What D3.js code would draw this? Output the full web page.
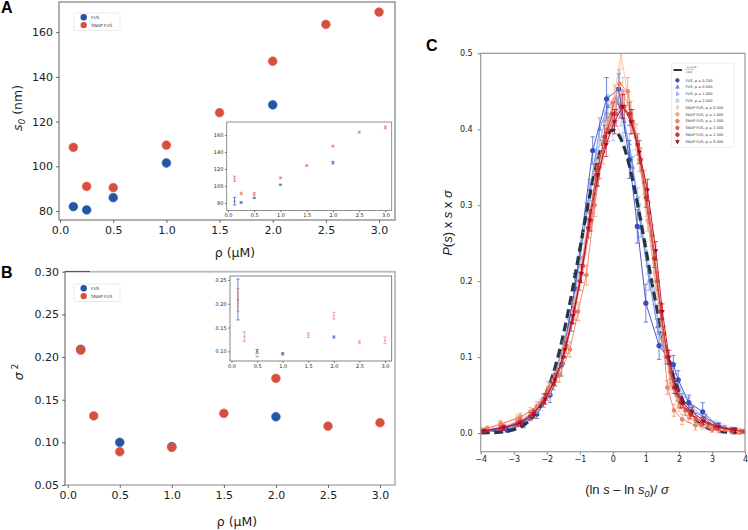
<!DOCTYPE html>
<html><head><meta charset="utf-8">
<script src="https://cdn.jsdelivr.net/npm/d3@7"></script>
<style>body{margin:0;background:#fff} svg{display:block;font-family:"DejaVu Sans",sans-serif}</style>
</head><body><svg id="c" width="748" height="530"></svg>
<script>
// ---------------- DATA ----------------
const rhoTicks = [0, 0.5, 1, 1.5, 2, 2.5, 3];
const s0Ticks = [80, 100, 120, 140, 160];
const sigTicks = [0.05, 0.10, 0.15, 0.20, 0.25, 0.30];
const sigInsetTicks = [0.10, 0.15, 0.20, 0.25];
const cXTicks = [-4, -3, -2, -1, 0, 1, 2, 3, 4];
const cYTicks = [0, 0.1, 0.2, 0.3, 0.4, 0.5];
const groupNames = ["FUS", "SNAP FUS"];

const fusRhoA = [0.125, 0.25, 0.5, 1, 2];
const fusS0 = [82, 80.5, 86, 101.5, 127.5];
const fusS0Err = [4.5, 1, 0.6, 0.6, 1.5];
const snapRhoA = [0.125, 0.25, 0.5, 1, 1.5, 2, 2.5, 3];
const snapS0 = [108.5, 91, 90.5, 109.5, 124, 147, 163.5, 169];
const snapS0Err = [3, 1.5, 1.5, 1, 1, 1, 1, 1.5];

const fusRhoB = [0.125, 0.5, 1, 2];
const fusSig = [0.209, 0.100, 0.095, 0.130];
const fusSigErr = [0.043, 0.004, 0.002, 0.002];
const snapRhoB = [0.125, 0.25, 0.5, 1, 1.5, 2, 2.5, 3];
const snapSig = [0.208, 0.131, 0.089, 0.094, 0.134, 0.175, 0.119, 0.123];
const snapSigErr = [0.024, 0.01, 0.001, 0.002, 0.005, 0.007, 0.003, 0.007];

// reference curve e^{-x^2/2}/sqrt(2pi), sampled
const refX = [-4,-3.75,-3.5,-3.25,-3,-2.75,-2.5,-2.25,-2,-1.75,-1.5,-1.25,-1,-0.75,-0.5,-0.25,0,0.25,0.5,0.75,1,1.25,1.5,1.75,2,2.25,2.5,2.75,3,3.25,3.5,3.75,4];
const refY = [0.00013,0.00035,0.00087,0.00203,0.00443,0.00909,0.01753,0.03174,0.05399,0.08628,0.12952,0.18265,0.24197,0.30114,0.35207,0.38667,0.39894,0.38667,0.35207,0.30114,0.24197,0.18265,0.12952,0.08628,0.05399,0.03174,0.01753,0.00909,0.00443,0.00203,0.00087,0.00035,0.00013];

const fus025X = [-3.9,-3.2,-2.7,-2.3,-1.9,-1.55,-1.15,-0.61,-0.19,0.18,0.5,0.74,1.0,1.4,1.83,1.98,2.3,2.72,3.2,3.7];
const fus025Y = [0.002,0.004,0.012,0.025,0.05,0.09,0.19,0.372,0.44,0.453,0.36,0.272,0.171,0.115,0.09,0.07,0.04,0.028,0.008,0.003];
const fus025E = [0.002,0.003,0.005,0.006,0.01,0.015,0.02,0.018,0.028,0.02,0.025,0.022,0.025,0.018,0.012,0.012,0.01,0.012,0.005,0.003];

const fus050X = [-3.6,-3.0,-2.5,-2.1,-1.7,-1.35,-1.0,-0.7,-0.4,-0.15,0.1,0.35,0.6,0.85,1.1,1.35,1.6,1.85,2.1,2.4,2.8,3.2,3.7];
const fus050Y = [0.004,0.01,0.02,0.045,0.085,0.14,0.23,0.32,0.40,0.43,0.44,0.41,0.35,0.27,0.2,0.14,0.1,0.07,0.045,0.03,0.02,0.01,0.004];
const fus050E = [0.002,0.003,0.004,0.006,0.008,0.01,0.012,0.014,0.015,0.015,0.015,0.015,0.014,0.012,0.012,0.01,0.009,0.008,0.007,0.006,0.005,0.004,0.003];

const fus100X = [-3.8,-3.1,-2.6,-2.2,-1.8,-1.45,-1.1,-0.8,-0.5,-0.25,0.0,0.25,0.5,0.75,1.0,1.25,1.5,1.75,2.0,2.3,2.7,3.1,3.6];
const fus100Y = [0.003,0.007,0.018,0.035,0.07,0.12,0.2,0.29,0.36,0.41,0.40,0.42,0.38,0.31,0.24,0.18,0.12,0.085,0.06,0.04,0.022,0.012,0.005];
const fus100E = [0.002,0.003,0.004,0.005,0.007,0.009,0.011,0.013,0.014,0.015,0.015,0.015,0.014,0.013,0.012,0.011,0.01,0.009,0.008,0.007,0.006,0.004,0.003];

const fus200X = [-3.9,-3.3,-2.7,-2.2,-1.8,-1.4,-1.05,-0.75,-0.45,-0.2,0.05,0.3,0.55,0.8,1.05,1.3,1.55,1.8,2.05,2.4,2.8,3.3,3.8];
const fus200Y = [0.002,0.006,0.015,0.04,0.075,0.13,0.21,0.30,0.37,0.42,0.41,0.39,0.36,0.30,0.22,0.16,0.11,0.07,0.05,0.03,0.016,0.008,0.003];
const fus200E = [0.002,0.003,0.004,0.005,0.007,0.009,0.011,0.012,0.013,0.014,0.014,0.014,0.013,0.012,0.011,0.01,0.009,0.008,0.007,0.006,0.005,0.004,0.003];

const snap050X = [-3.9,-3.3,-2.8,-2.3,-1.9,-1.5,-1.15,-0.85,-0.55,-0.3,-0.05,0.25,0.5,0.75,1.0,1.25,1.5,1.75,2.0,2.3,2.7,3.2,3.8];
const snap050Y = [0.004,0.009,0.017,0.032,0.058,0.1,0.17,0.25,0.33,0.38,0.42,0.50,0.43,0.37,0.3,0.21,0.13,0.07,0.04,0.025,0.013,0.006,0.002];
const snap050E = [0.003,0.004,0.005,0.006,0.008,0.01,0.012,0.014,0.016,0.017,0.018,0.02,0.018,0.017,0.015,0.013,0.011,0.009,0.008,0.007,0.006,0.005,0.004];

const snap100X = [-4.0,-3.4,-2.9,-2.5,-2.1,-1.8,-1.5,-1.2,-0.95,-0.7,-0.45,-0.2,0.05,0.3,0.55,0.8,1.05,1.3,1.55,1.75,2.0,2.3,2.7,3.2,3.8];
const snap100Y = [0.004,0.011,0.019,0.028,0.045,0.07,0.11,0.16,0.22,0.29,0.35,0.40,0.44,0.45,0.42,0.36,0.28,0.2,0.12,0.065,0.035,0.02,0.01,0.004,0.002];
const snap100E = [0.003,0.004,0.005,0.006,0.007,0.008,0.01,0.012,0.013,0.015,0.016,0.017,0.018,0.018,0.017,0.016,0.014,0.012,0.01,0.008,0.007,0.006,0.005,0.004,0.003];

const snap150X = [-3.8,-3.4,-2.8,-2.3,-1.95,-1.62,-1.3,-1.05,-0.8,-0.55,-0.3,-0.05,0.2,0.45,0.7,0.95,1.2,1.45,1.65,1.85,2.1,2.5,3.0,3.6];
const snap150Y = [0.006,0.012,0.021,0.035,0.06,0.076,0.11,0.16,0.208,0.30,0.37,0.42,0.46,0.45,0.39,0.33,0.26,0.16,0.06,0.03,0.018,0.01,0.005,0.002];
const snap150E = [0.003,0.004,0.005,0.006,0.008,0.009,0.01,0.012,0.013,0.015,0.016,0.017,0.018,0.018,0.017,0.016,0.014,0.012,0.009,0.008,0.007,0.006,0.004,0.003];

const snap200X = [-3.9,-3.3,-2.8,-2.4,-2.0,-1.7,-1.4,-1.15,-0.9,-0.65,-0.4,-0.15,0.1,0.35,0.6,0.85,1.1,1.35,1.55,1.75,1.95,2.2,2.5,2.9,3.4,3.9];
const snap200Y = [0.003,0.008,0.015,0.027,0.05,0.075,0.115,0.16,0.22,0.28,0.35,0.40,0.42,0.43,0.41,0.36,0.29,0.20,0.13,0.08,0.05,0.03,0.02,0.012,0.006,0.002];
const snap200E = [0.002,0.003,0.004,0.005,0.007,0.008,0.01,0.011,0.012,0.014,0.015,0.016,0.016,0.016,0.016,0.015,0.014,0.012,0.01,0.009,0.008,0.007,0.006,0.005,0.004,0.003];

const snap250X = [-4.0,-3.4,-2.9,-2.5,-2.1,-1.8,-1.5,-1.25,-1.0,-0.75,-0.5,-0.25,0.0,0.25,0.5,0.75,1.0,1.25,1.45,1.65,1.85,2.05,2.35,2.7,3.1,3.6,4.0];
const snap250Y = [0.002,0.006,0.012,0.022,0.04,0.065,0.1,0.145,0.2,0.27,0.34,0.39,0.42,0.43,0.42,0.38,0.31,0.23,0.16,0.1,0.06,0.04,0.025,0.015,0.008,0.004,0.002];
const snap250E = [0.002,0.003,0.004,0.005,0.006,0.008,0.009,0.011,0.012,0.013,0.014,0.015,0.015,0.015,0.015,0.014,0.013,0.012,0.011,0.009,0.008,0.007,0.006,0.005,0.004,0.003,0.002];

const snap300X = [-3.9,-3.3,-2.8,-2.4,-2.05,-1.75,-1.45,-1.2,-0.95,-0.7,-0.45,-0.2,0.05,0.3,0.55,0.8,1.05,1.3,1.5,1.7,1.9,2.1,2.4,2.75,3.2,3.7];
const snap300Y = [0.003,0.007,0.013,0.025,0.045,0.07,0.11,0.155,0.21,0.28,0.34,0.38,0.41,0.43,0.41,0.37,0.32,0.24,0.16,0.1,0.06,0.04,0.028,0.016,0.008,0.004];
const snap300E = [0.002,0.003,0.004,0.005,0.007,0.008,0.01,0.011,0.012,0.014,0.015,0.016,0.016,0.016,0.016,0.015,0.014,0.012,0.01,0.009,0.008,0.007,0.006,0.005,0.004,0.003];

const cLabels = ["FUS, \u03c1 = 0.250","FUS, \u03c1 = 0.500","FUS, \u03c1 = 1.000","FUS, \u03c1 = 2.000",
  "SNAP FUS, \u03c1 = 0.500","SNAP FUS, \u03c1 = 1.000","SNAP FUS, \u03c1 = 1.500","SNAP FUS, \u03c1 = 2.000","SNAP FUS, \u03c1 = 2.500","SNAP FUS, \u03c1 = 3.000"];

// ---------------- STYLE ----------------
const BLUE = "#2456a6", RED = "#d4503f";
const cColors = ["#3b4cc0","#6a8be8","#9ab6f0","#c3d3ef","#f5c2a9","#f4a486","#ec8466","#dc5f4b","#c43a3a","#b40426"];
const cMarkers = ["circle","triUp","triRight","square","thinDiamond","circle","octagon","pentagon","hexagon","triDown"];

const svg = d3.select("#c");
const fmt1 = d3.format(".1f"), fmt2 = d3.format(".2f");

function poly(n, r, rot) {
  const pts = d3.range(n).map(i => { const a = rot + i * 2 * Math.PI / n; return [r * Math.sin(a), -r * Math.cos(a)]; });
  return "M" + pts.map(p => p[0].toFixed(2) + "," + p[1].toFixed(2)).join("L") + "Z";
}
const markerPath = {
  circle: r => d3.symbol(d3.symbolCircle, Math.PI * r * r)(),
  triUp: r => poly(3, r * 1.3, 0),
  triRight: r => poly(3, r * 1.3, Math.PI / 2),
  triDown: r => poly(3, r * 1.3, Math.PI),
  square: r => poly(4, r * 1.25, Math.PI / 4),
  thinDiamond: r => `M0,${-r * 1.35}L${r * 0.75},0L0,${r * 1.35}L${-r * 0.75},0Z`,
  octagon: r => poly(8, r * 1.08, Math.PI / 8),
  pentagon: r => poly(5, r * 1.15, 0),
  hexagon: r => poly(6, r * 1.12, 0)
};

function styleAxis(g, fs, col) {
  g.select(".domain").remove();
  g.selectAll(".tick line").attr("stroke", col).attr("stroke-width", 0.8);
  g.selectAll(".tick text").attr("font-size", fs).attr("fill", "#222").attr("font-family", "DejaVu Sans");
}

function drawDots(g, x, y, xs, ys, col, r) {
  g.selectAll(null).data(xs.map((v, i) => [v, ys[i]])).join("circle")
    .attr("cx", d => x(d[0])).attr("cy", d => y(d[1])).attr("r", r)
    .attr("fill", col).attr("stroke", d3.color(col).brighter(0.4)).attr("stroke-width", 0.6);
}
function drawErr(g, x, y, xs, ys, es, col, cap, op) {
  const d = xs.map((v, i) => [v, ys[i], es[i]]);
  const gg = g.append("g").attr("stroke", col).attr("stroke-width", 0.9).attr("opacity", op);
  d.forEach(p => {
    const cx = x(p[0]), y1 = y(p[1] + p[2]), y2 = y(p[1] - p[2]);
    gg.append("line").attr("x1", cx).attr("x2", cx).attr("y1", y1).attr("y2", y2);
    gg.append("line").attr("x1", cx - cap).attr("x2", cx + cap).attr("y1", y1).attr("y2", y1);
    gg.append("line").attr("x1", cx - cap).attr("x2", cx + cap).attr("y1", y2).attr("y2", y2);
    gg.append("line").attr("x1", cx - cap * 0.6).attr("x2", cx + cap * 0.6).attr("y1", y(p[1])).attr("y2", y(p[1])).attr("stroke-width", 1.2);
  });
}
function miniLegend(x0, y0) {
  const g = svg.append("g");
  g.append("rect").attr("x", x0).attr("y", y0).attr("width", 46).attr("height", 17.5).attr("rx", 1.5)
    .attr("fill", "#fff").attr("stroke", "#ddd").attr("stroke-width", 0.6);
  [BLUE, RED].forEach((c, i) => {
    g.append("circle").attr("cx", x0 + 9.7).attr("cy", y0 + 4.3 + i * 7.8).attr("r", 3.2).attr("fill", c);
    g.append("text").attr("x", x0 + 17).attr("y", y0 + 5.8 + i * 7.8).attr("font-size", 4.3).attr("fill", "#333").text(groupNames[i]);
  });
}
function panelLetter(t, x, y) {
  svg.append("text").attr("x", x).attr("y", y).attr("font-family", "Liberation Sans, Arial, sans-serif")
    .attr("font-weight", "bold").attr("font-size", 16).attr("fill", "#000").text(t);
}

// ---------------- PANEL A ----------------
{
  const x = d3.scaleLinear([-0.01, 3.15], [59, 395]);
  const y = d3.scaleLinear([76, 173.5], [220, 2]);
  const g = svg.append("g");
  g.append("rect").attr("x", 59).attr("y", 2).attr("width", 336).attr("height", 218).attr("fill", "none").attr("stroke", "#888").attr("stroke-width", 1.3);
  const ax = g.append("g").attr("transform", "translate(0,220)").call(d3.axisBottom(x).tickValues(rhoTicks).tickFormat(fmt1).tickSize(3).tickPadding(3));
  styleAxis(ax, 11, "#444");
  const ay = g.append("g").attr("transform", "translate(59,0)").call(d3.axisLeft(y).tickValues(s0Ticks).tickSize(3).tickPadding(3));
  styleAxis(ay, 11, "#444");
  drawDots(g, x, y, snapRhoA, snapS0, RED, 4.4);
  drawDots(g, x, y, fusRhoA, fusS0, BLUE, 4.4);
  miniLegend(74, 13);
  // labels
  const t = svg.append("text").attr("transform", "translate(22,108) rotate(-90)").attr("text-anchor", "middle").attr("font-size", 12.5).attr("fill", "#222");
  t.append("tspan").attr("font-style", "italic").text("s");
  t.append("tspan").attr("font-style", "italic").attr("font-size", 9).attr("dy", 3).text("0");
  t.append("tspan").attr("dy", -3).text(" (nm)");
  svg.append("text").attr("x", 235).attr("y", 257).attr("text-anchor", "middle").attr("font-size", 12.5).attr("fill", "#222").text("\u03c1 (\u03bcM)");
  panelLetter("A", 1, 13);

  // inset
  const xi = d3.scaleLinear([-0.025, 3.12], [226.7, 391.7]);
  const yi = d3.scaleLinear([71, 175.5], [210.5, 122]);
  const gi = svg.append("g");
  gi.append("rect").attr("x", 226.7).attr("y", 122).attr("width", 165).attr("height", 88.5).attr("fill", "#fff").attr("stroke", "#777").attr("stroke-width", 0.8);
  const ix = gi.append("g").attr("transform", "translate(0,210.5)").call(d3.axisBottom(xi).tickValues(rhoTicks).tickFormat(fmt1).tickSize(1.8).tickPadding(1.5));
  styleAxis(ix, 5, "#555");
  const iy = gi.append("g").attr("transform", "translate(226.7,0)").call(d3.axisLeft(yi).tickValues(s0Ticks).tickSize(1.8).tickPadding(1.5));
  styleAxis(iy, 5, "#555");
  drawErr(gi, xi, yi, fusRhoA, fusS0, fusS0Err, "#3c6cc0", 1.6, 0.9);
  drawErr(gi, xi, yi, snapRhoA, snapS0, snapS0Err, "#e0604f", 1.6, 0.75);
}

// ---------------- PANEL B ----------------
{
  const x = d3.scaleLinear([-0.026, 3.144], [65, 395]);
  const y = d3.scaleLinear([0.05, 0.30], [485, 271.7]);
  const g = svg.append("g");
  g.append("rect").attr("x", 65).attr("y", 271.7).attr("width", 330).attr("height", 213.3).attr("fill", "none").attr("stroke", "#bdbdbd").attr("stroke-width", 1.8);
  g.append("line").attr("x1", 65).attr("x2", 90).attr("y1", 271.5).attr("y2", 271.5).attr("stroke", "#555").attr("stroke-width", 1);
  g.append("line").attr("x1", 65).attr("x2", 65).attr("y1", 271.7).attr("y2", 485).attr("stroke", "#999").attr("stroke-width", 1.1);
  const ax = g.append("g").attr("transform", "translate(0,485)").call(d3.axisBottom(x).tickValues(rhoTicks).tickFormat(fmt1).tickSize(3).tickPadding(3));
  styleAxis(ax, 11, "#444");
  const ay = g.append("g").attr("transform", "translate(65,0)").call(d3.axisLeft(y).tickValues(sigTicks).tickFormat(fmt2).tickSize(3).tickPadding(3));
  styleAxis(ay, 11, "#444");
  drawDots(g, x, y, fusRhoB, fusSig, BLUE, 4.4);
  drawDots(g, x, y, snapRhoB, snapSig, RED, 4.4);
  miniLegend(74, 284);
  const t = svg.append("text").attr("transform", "translate(23,372) rotate(-90)").attr("text-anchor", "middle").attr("font-size", 12.5).attr("fill", "#222");
  t.append("tspan").attr("font-style", "italic").text("\u03c3");
  t.append("tspan").attr("font-size", 9).attr("dy", -5).text(" 2");
  svg.append("text").attr("x", 237).attr("y", 526).attr("text-anchor", "middle").attr("font-size", 12.5).attr("fill", "#222").text("\u03c1 (\u03bcM)");
  panelLetter("B", 1, 278);

  const xi = d3.scaleLinear([-0.03, 3.13], [230, 391.7]);
  const yi = d3.scaleLinear([0.0796, 0.2584], [361, 276]);
  const gi = svg.append("g");
  gi.append("rect").attr("x", 230).attr("y", 276).attr("width", 161.7).attr("height", 85).attr("fill", "#fff").attr("stroke", "#666").attr("stroke-width", 0.8);
  const ix = gi.append("g").attr("transform", "translate(0,361)").call(d3.axisBottom(xi).tickValues(rhoTicks).tickFormat(fmt1).tickSize(1.8).tickPadding(1.5));
  styleAxis(ix, 5, "#555");
  const iy = gi.append("g").attr("transform", "translate(230,0)").call(d3.axisLeft(yi).tickValues(sigInsetTicks).tickFormat(fmt2).tickSize(1.8).tickPadding(1.5));
  styleAxis(iy, 5, "#555");
  drawErr(gi, xi, yi, fusRhoB, fusSig, fusSigErr, "#3c6cc0", 1.6, 0.9);
  drawErr(gi, xi, yi, snapRhoB, snapSig, snapSigErr, "#e0604f", 1.6, 0.6);
}

// ---------------- PANEL C ----------------
{
  const x = d3.scaleLinear([-4, 4], [480.7, 745]);
  const y = d3.scaleLinear([-0.0246, 0.5], [451.7, 53.3]);
  const g = svg.append("g");
  const ax = g.append("g").attr("transform", "translate(0,451.7)").call(d3.axisBottom(x).tickValues(cXTicks).tickFormat(d => d < 0 ? "\u2212" + Math.abs(d) : String(d)).tickSize(3).tickPadding(2));
  styleAxis(ax, 8, "#666");
  const ay = g.append("g").attr("transform", "translate(480.7,0)").call(d3.axisLeft(y).tickValues(cYTicks).tickFormat(fmt1).tickSize(3).tickPadding(5));
  styleAxis(ay, 8, "#666");

  const clip = svg.append("defs").append("clipPath").attr("id", "cc").append("rect").attr("x", 480.7).attr("y", 53.3).attr("width", 264.3).attr("height", 398.4);
  const pg = g.append("g").attr("clip-path", "url(#cc)");
  const line = d3.line().x(d => x(d[0])).y(d => y(d[1]));
  const allX = [fus025X, fus050X, fus100X, fus200X, snap050X, snap100X, snap150X, snap200X, snap250X, snap300X];
  const allY = [fus025Y, fus050Y, fus100Y, fus200Y, snap050Y, snap100Y, snap150Y, snap200Y, snap250Y, snap300Y];
  const allE = [fus025E, fus050E, fus100E, fus200E, snap050E, snap100E, snap150E, snap200E, snap250E, snap300E];
  const series = allX.map((xs, k) => ({ pts: xs.map((v, i) => [v, allY[k][i], allE[k][i]]), color: cColors[k], marker: cMarkers[k], label: cLabels[k] }));
  const order = [3, 2, 1, 0, 4, 5, 6, 7, 8, 9];
  function drawSeries(s) {
    const sg = pg.append("g");
    sg.append("path").attr("d", line(s.pts)).attr("fill", "none").attr("stroke", s.color).attr("stroke-width", 1).attr("opacity", 0.9);
    const eg = sg.append("g").attr("stroke", s.color).attr("stroke-width", 0.8).attr("opacity", 0.85);
    s.pts.forEach(p => {
      const cx = x(p[0]), y1 = y(p[1] + p[2]), y2 = y(p[1] - p[2]);
      eg.append("line").attr("x1", cx).attr("x2", cx).attr("y1", y1).attr("y2", y2);
      eg.append("line").attr("x1", cx - 2.2).attr("x2", cx + 2.2).attr("y1", y1).attr("y2", y1);
      eg.append("line").attr("x1", cx - 2.2).attr("x2", cx + 2.2).attr("y1", y2).attr("y2", y2);
    });
    sg.selectAll(null).data(s.pts).join("path")
      .attr("transform", d => `translate(${x(d[0])},${y(d[1])})`)
      .attr("d", markerPath[s.marker](s.marker === "circle" && s.color === cColors[0] ? 2.6 : 2.2))
      .attr("fill", s.color);
  }
  order.slice(0, 4).forEach(k => drawSeries(series[k]));
  pg.append("path").attr("d", d3.line().curve(d3.curveNatural).x(d => x(d[0])).y(d => y(d[1]))(refX.map((v, i) => [v, refY[i]])))
    .attr("fill", "none").attr("stroke", "#253a44").attr("stroke-width", 3.2).attr("stroke-dasharray", "9,4.5");
  order.slice(4).forEach(k => drawSeries(series[k]));

  g.append("rect").attr("x", 480.7).attr("y", 53.3).attr("width", 264.3).attr("height", 398.4).attr("fill", "none").attr("stroke", "#999").attr("stroke-width", 1.2);

  // legend
  const lg = svg.append("g");
  lg.append("rect").attr("x", 671.7).attr("y", 63).attr("width", 62.3).attr("height", 84.7).attr("rx", 1).attr("fill", "#fff").attr("stroke", "#ddd").attr("stroke-width", 0.6).attr("opacity", 0.9);
  lg.append("line").attr("x1", 673.5).attr("x2", 682).attr("y1", 70).attr("y2", 70).attr("stroke", "#253a44").attr("stroke-width", 2);
  lg.append("text").attr("x", 687).attr("y", 68.3).attr("font-size", 2.8).attr("fill", "#333").text("e\u2212x\u00b2/2");
  lg.append("line").attr("x1", 685).attr("x2", 694).attr("y1", 69.3).attr("y2", 69.3).attr("stroke", "#333").attr("stroke-width", 0.3);
  lg.append("text").attr("x", 685).attr("y", 72.8).attr("font-size", 2.8).attr("fill", "#333").text("\u221a(2\u03c0)");
  series.forEach((s, k) => {
    const yy = 80.3 + k * 6.8;
    lg.append("line").attr("x1", 677.4).attr("x2", 677.4).attr("y1", yy - 2.4).attr("y2", yy + 2.4).attr("stroke", s.color).attr("stroke-width", 0.7);
    lg.append("path").attr("transform", `translate(677.4,${yy})`).attr("d", markerPath[s.marker](2.1)).attr("fill", s.color);
    lg.append("text").attr("x", 685.5).attr("y", yy + 1.3).attr("font-size", 3.6).attr("fill", "#333").text(s.label);
  });

  // axis titles
  const t = svg.append("text").attr("transform", "translate(452,223) rotate(-90)").attr("text-anchor", "middle").attr("font-family", "Liberation Sans, Arial, sans-serif").attr("font-size", 13).attr("fill", "#222");
  t.append("tspan").attr("font-style", "italic").text("P");
  t.append("tspan").text("(");
  t.append("tspan").attr("font-style", "italic").text("s");
  t.append("tspan").text(") x ");
  t.append("tspan").attr("font-style", "italic").text("s");
  t.append("tspan").text(" x ");
  t.append("tspan").attr("font-style", "italic").text("\u03c3");
  const tx = svg.append("text").attr("x", 627).attr("y", 494).attr("text-anchor", "middle").attr("font-family", "Liberation Sans, Arial, sans-serif").attr("font-size", 13).attr("fill", "#222");
  tx.append("tspan").text("(ln ");
  tx.append("tspan").attr("font-style", "italic").text("s");
  tx.append("tspan").text(" \u2013 ln ");
  tx.append("tspan").attr("font-style", "italic").text("s");
  tx.append("tspan").attr("font-style", "italic").attr("font-size", 9).attr("dy", 3).text("0");
  tx.append("tspan").attr("dy", -3).text(")/ ");
  tx.append("tspan").attr("font-style", "italic").text("\u03c3");
  panelLetter("C", 426, 51);
}
</script></body></html>
